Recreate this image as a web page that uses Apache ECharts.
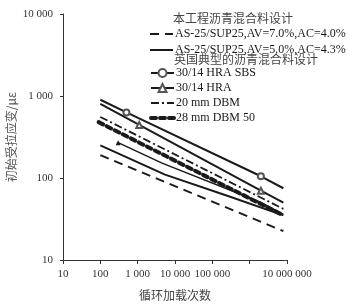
<!DOCTYPE html>
<html><head><meta charset="utf-8">
<script src="https://cdn.jsdelivr.net/npm/echarts@6/dist/echarts.min.js"></script>
<style>html,body{margin:0;padding:0;background:#fff}#c{width:356px;height:304px}</style>
</head><body><div id="c"></div>
<script>
const xTicks = [10, 100, 1000, 10000, 100000, 1000000, 10000000];
const yTicks = [10, 100, 1000, 10000];
const hiddenXLabels = [1000000];

const av7N = [100, 8000000], av7E = [190, 22.5];
const av5N = [100, 5400, 300000, 8000000], av5E = [250, 110, 59, 35];
const extraN = [300, 4500, 1900000, 8000000], extraE = [270, 152, 51, 36];
const sbsN = [100, 500, 2000000, 8000000], sbsE = [900, 630, 105, 75];
const hraN = [100, 1100, 2000000, 8000000], hraE = [800, 443, 70, 50];
const dbm20N = [100, 8000000], dbm20E = [555, 42];
const dbm28N = [90, 8000000], dbm28E = [480, 35];
const sbsMarks = [1, 2], hraMarks = [1, 2], extraMarks = [0];

const names = {
  h1: '本工程沥青混合料设计',
  av7: 'AS-25/SUP25,AV=7.0%,AC=4.0%',
  av5: 'AS-25/SUP25,AV=5.0%,AC=4.3%',
  h2: '英国典型的沥青混合料设计',
  sbs: '30/14 HRA SBS',
  hra: '30/14 HRA',
  d20: '20 mm DBM',
  d28: '28 mm DBM 50'
};

function pts(N, E, marks) {
  return N.map((n, i) => {
    const o = { value: [n, E[i]] };
    if (marks) { if (marks.indexOf(i) < 0) o.symbol = 'none'; }
    return o;
  });
}
function fmt(v) { return String(Math.round(v)).replace(/\B(?=(\d{3})+(?!\d))/g, ' '); }

const serif = 'Liberation Serif';
const cjk = 'Noto Sans CJK SC';
const black = '#1a1a1a';
const legText = { fontFamily: serif, fontSize: 12, color: black, padding: [0, 0, 0, -3] };
const noSym = { opacity: 0 };

const chart = echarts.init(document.getElementById('c'), null, { renderer: 'canvas' });
chart.setOption({
  animation: false,
  backgroundColor: '#fff',
  grid: { left: 63, right: 69, top: 14, bottom: 44, containLabel: false, outerBoundsMode: 'none' },
  xAxis: {
    type: 'log', logBase: 10, min: 10, max: 10000000,
    name: '循环加载次数', nameLocation: 'middle', nameGap: 29,
    nameTextStyle: { fontFamily: cjk, fontSize: 12, color: '#444' },
    axisLine: { lineStyle: { color: '#333', width: 1 } },
    axisTick: { show: true, length: 4, lineStyle: { color: '#333' } },
    axisLabel: { fontFamily: serif, fontSize: 11, color: '#333', margin: 9,
      formatter: v => hiddenXLabels.indexOf(Math.round(v)) >= 0 ? '' : fmt(v) },
    splitLine: { show: false }, minorTick: { show: false }
  },
  yAxis: {
    type: 'log', logBase: 10, min: 10, max: 10000,
    name: '初始受拉应变/με', nameLocation: 'middle', nameGap: 46, nameRotate: 90, nameMoveOverlap: false,
    nameTextStyle: { fontFamily: cjk, fontSize: 12, color: '#555' },
    axisLine: { show: true, lineStyle: { color: '#333', width: 1 } },
    axisTick: { show: true, length: 3, lineStyle: { color: '#333' } },
    axisLabel: { fontFamily: serif, fontSize: 11, color: '#333', margin: 10, formatter: v => fmt(v) },
    splitLine: { show: false }
  },
  legend: [
    { data: [{ name: names.av7, itemStyle: noSym, lineStyle: { width: 2 } },
             { name: names.av5, itemStyle: noSym, lineStyle: { width: 2 } }],
      orient: 'vertical', left: 149, top: 28,
      itemWidth: 23, itemHeight: 10, itemGap: 4, padding: 0, textStyle: legText },
    { data: [{ name: names.sbs, lineStyle: { width: 2 } }, { name: names.hra, lineStyle: { width: 2 } },
             { name: names.d20, itemStyle: noSym, lineStyle: { width: 1.8 } },
             { name: names.d28, itemStyle: noSym, lineStyle: { width: 4 } }],
      orient: 'vertical', left: 149, top: 67,
      itemWidth: 23, itemHeight: 10, itemGap: 3, padding: 0, textStyle: legText }
  ],
  graphic: [
    { type: 'text', left: 173, top: 12, style: { text: names.h1, font: '12px "' + cjk + '"', fill: '#444' } },
    { type: 'text', left: 174, top: 53, style: { text: names.h2, font: '12px "' + cjk + '"', fill: '#444' } }
  ],
  series: [
    { name: names.av7, type: 'line', data: pts(av7N, av7E), symbol: 'none',
      lineStyle: { color: black, width: 2, type: [9, 6] }, itemStyle: { color: black } },
    { name: names.av5, type: 'line', data: pts(av5N, av5E), symbol: 'none',
      lineStyle: { color: black, width: 2 }, itemStyle: { color: black } },
    { name: 'extra', type: 'line', data: pts(extraN, extraE, extraMarks), symbol: 'triangle', symbolSize: 5,
      lineStyle: { color: black, width: 1.5 }, itemStyle: { color: black } },
    { name: names.sbs, type: 'line', data: pts(sbsN, sbsE, sbsMarks), symbol: 'emptyCircle', symbolSize: 6,
      lineStyle: { color: black, width: 2 }, itemStyle: { color: '#555', borderColor: '#555', borderWidth: 1 } },
    { name: names.hra, type: 'line', data: pts(hraN, hraE, hraMarks), symbol: 'emptyTriangle', symbolSize: 6,
      lineStyle: { color: black, width: 2 }, itemStyle: { color: '#555', borderColor: '#555', borderWidth: 1 } },
    { name: names.d20, type: 'line', data: pts(dbm20N, dbm20E), symbol: 'none',
      lineStyle: { color: black, width: 1.8, type: [8, 3, 2, 3] }, itemStyle: { color: black } },
    { name: names.d28, type: 'line', data: pts(dbm28N, dbm28E), symbol: 'none',
      lineStyle: { color: black, width: 4, type: [5, 4], cap: 'round' }, itemStyle: { color: black } }
  ]
});
</script></body></html>
